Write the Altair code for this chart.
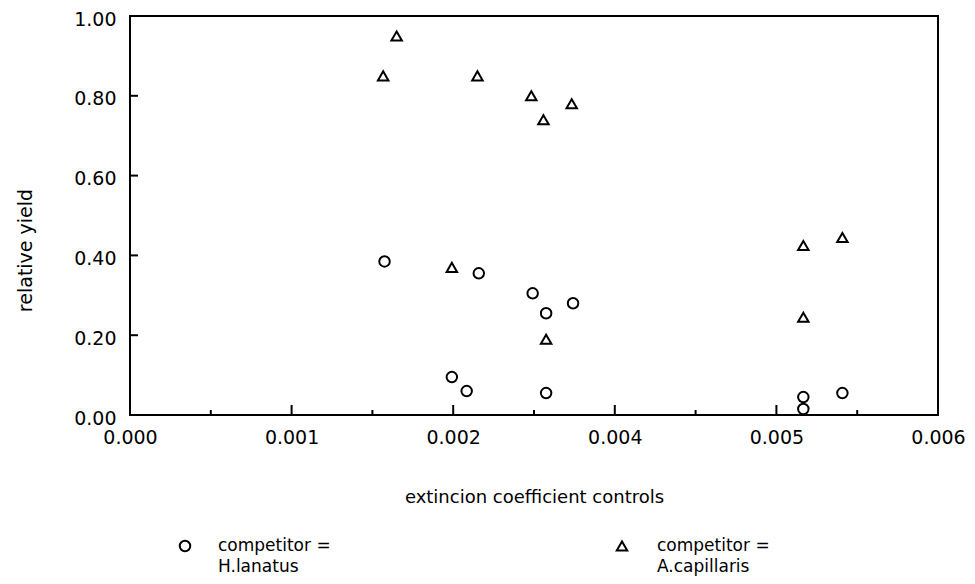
import altair as alt
import pandas as pd

# --- data ---
hl_x = [0.00189, 0.00259, 0.00299, 0.00329, 0.00309, 0.00239, 0.00250, 0.00309, 0.00500, 0.00500, 0.00529]
hl_y = [0.385, 0.355, 0.305, 0.280, 0.255, 0.095, 0.060, 0.055, 0.045, 0.015, 0.055]
ac_x = [0.00188, 0.00198, 0.00258, 0.00298, 0.00307, 0.00328, 0.00239, 0.00309, 0.00500, 0.00529, 0.00500]
ac_y = [0.850, 0.950, 0.850, 0.800, 0.740, 0.780, 0.370, 0.190, 0.425, 0.445, 0.245]

competitors = ["H.lanatus", "A.capillaris"]
legend_labels = ["competitor =\nH.lanatus", "competitor =\nA.capillaris"]

x_tick_values = [0.0, 0.0012, 0.0024, 0.0036, 0.0048, 0.006]
y_tick_values = [0.0, 0.2, 0.4, 0.6, 0.8, 1.0]
x_major_inner = [0.0012, 0.0024, 0.0036, 0.0048]
x_minor_inner = [0.0006, 0.0018, 0.0030, 0.0042, 0.0054]
y_inner = [0.2, 0.4, 0.6, 0.8]

pts = pd.DataFrame({
    "x": hl_x + ac_x,
    "y": hl_y + ac_y,
    "competitor": [competitors[0]] * len(hl_x) + [competitors[1]] * len(ac_x),
})

W, H = 808, 399
FONT = "DejaVu Sans"
xs = alt.Scale(domain=[0, 0.006], nice=False, zero=False)
ys = alt.Scale(domain=[0, 1], nice=False, zero=False)

x_axis = alt.Axis(
    values=x_tick_values, format=".3f", ticks=False, domain=False, grid=False,
    labelPadding=13, labelFlush=False, labelOverlap=False, labelBound=False,
    labelFontSize=19, labelFont=FONT, labelColor="black",
    title="extincion coefficient controls", titleFont=FONT, titleFontSize=18,
    titleFontWeight="normal", titleColor="black", titleY=82, titleBaseline="middle")
y_axis = alt.Axis(
    values=y_tick_values, format=".2f", ticks=False, domain=False, grid=False,
    labelPadding=14, labelOffset=3, labelFlush=False, labelOverlap=False, labelBound=False,
    labelFontSize=19, labelFont=FONT, labelColor="black",
    title="relative yield", titleFont=FONT, titleFontSize=19,
    titleFontWeight="normal", titleColor="black", titleX=-105, titleY=234,
    titleAngle=270, titleBaseline="middle", titleAlign="center")

points = alt.Chart(pts).mark_point(
    filled=False, size=110, strokeWidth=2, color="black", opacity=1
).encode(
    x=alt.X("x:Q", scale=xs, axis=x_axis),
    y=alt.Y("y:Q", scale=ys, axis=y_axis),
    shape=alt.Shape("competitor:N", scale=alt.Scale(domain=competitors, range=["circle", "triangle-up"]), legend=None),
)

major = alt.Chart(pd.DataFrame({"x": x_major_inner})).mark_rule(color="black", strokeWidth=2).encode(
    x=alt.X("x:Q", scale=xs, axis=x_axis), y=alt.value(H), y2=alt.value(H - 10))
minor = alt.Chart(pd.DataFrame({"x": x_minor_inner})).mark_rule(color="black", strokeWidth=2).encode(
    x=alt.X("x:Q", scale=xs, axis=x_axis), y=alt.value(H), y2=alt.value(H - 5))
yt = alt.Chart(pd.DataFrame({"y": y_inner})).mark_rule(color="black", strokeWidth=2).encode(
    y=alt.Y("y:Q", scale=ys, axis=y_axis), x=alt.value(0), x2=alt.value(8))

def legend_entry(shape, label, sx, tx):
    sym = alt.Chart(pd.DataFrame({"c": [label]})).mark_point(
        shape=shape, filled=False, size=110, strokeWidth=2, color="black", opacity=1
    ).encode(x=alt.value(sx), y=alt.value(530))
    txt = alt.Chart(pd.DataFrame({"c": [label]})).mark_text(
        align="left", baseline="alphabetic", lineBreak="\n", fontSize=17, font=FONT,
        lineHeight=21, color="black"
    ).encode(x=alt.value(tx), y=alt.value(535), text="c:N")
    return sym + txt

leg1 = legend_entry("circle", legend_labels[0], 55, 88)
leg2 = legend_entry("triangle-up", legend_labels[1], 492, 527)

chart = alt.layer(points, major, minor, yt, leg1, leg2).properties(
    width=W, height=H, autosize="none",
    padding={"left": 122, "top": 8, "right": 29, "bottom": 161},
    background="white",
).configure_view(stroke="black", strokeWidth=2)

chart.save("out.html", embed_options={"renderer": "svg", "actions": False})
